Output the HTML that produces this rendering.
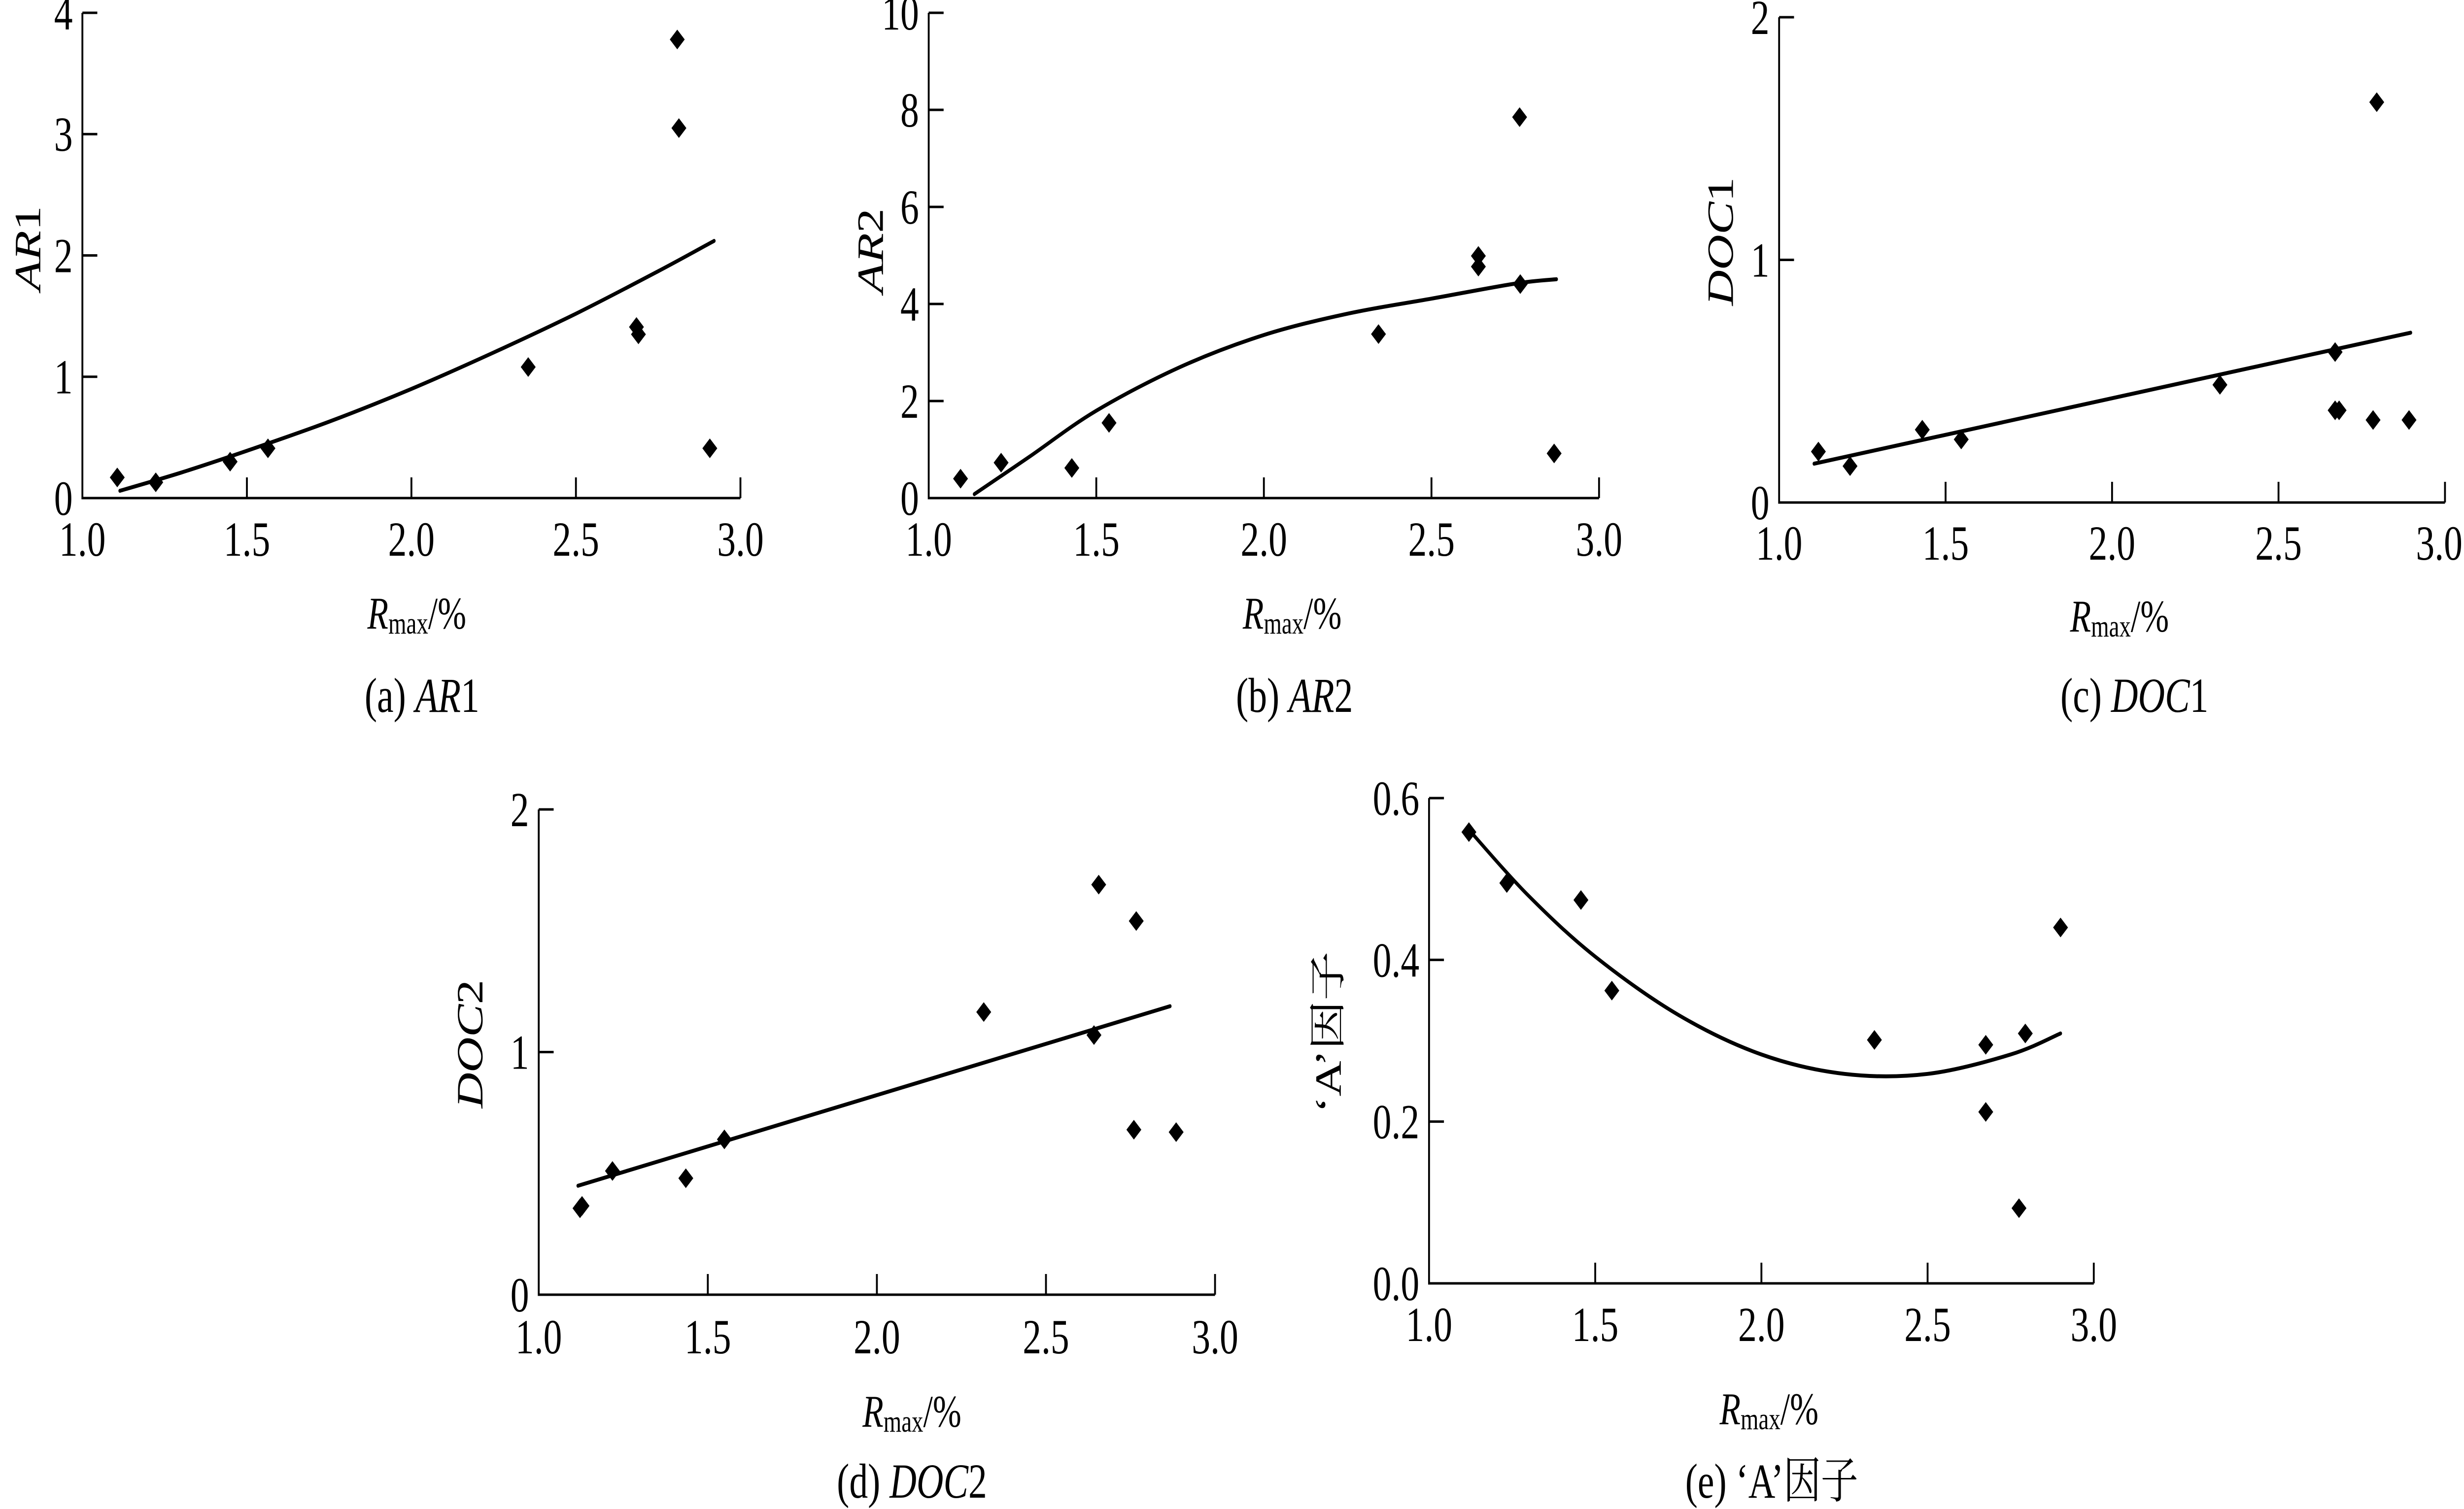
<!DOCTYPE html>
<html><head><meta charset="utf-8"><style>
html,body{margin:0;padding:0;background:#fff;overflow:hidden;width:100%;height:100%;}
svg{display:block;width:100vw;height:100vh;}
text{font-family:"Liberation Serif","Noto Serif CJK SC","Noto Sans CJK SC",serif;fill:#000;}
</style></head><body>
<svg id="fig" xmlns="http://www.w3.org/2000/svg" viewBox="0 0 6609 3063" preserveAspectRatio="none" overflow="hidden"></svg>
<script>
// ---- data ----
const xTickLabels = ["1.0","1.5","2.0","2.5","3.0"];
const xTickValues = [1.0,1.5,2.0,2.5,3.0];

const aX = [1.106,1.223,1.449,1.564,2.355,2.684,2.690,2.808,2.813,2.907];
const aY = [0.17,0.13,0.30,0.41,1.08,1.41,1.35,3.78,3.05,0.41];
const aCurveX = [1.114,1.3,1.5,1.75,2.0,2.25,2.5,2.75,2.92];
const aCurveY = [0.06,0.21,0.39,0.63,0.90,1.20,1.52,1.87,2.12];
const aYTicks = [0,1,2,3,4];
const aYTickLabels = ["0","1","2","3","4"];

const bX = [1.095,1.216,1.427,1.538,2.342,2.640,2.640,2.763,2.765,2.866];
const bY = [0.40,0.73,0.62,1.55,3.38,4.99,4.77,7.85,4.41,0.92];
const bCurveX = [1.136,1.3,1.5,1.75,2.0,2.25,2.5,2.75,2.873];
const bCurveY = [0.08,0.85,1.8,2.7,3.36,3.8,4.11,4.42,4.51];
const bYTicks = [0,2,4,6,8,10];
const bYTickLabels = ["0","2","4","6","8","10"];

const cX = [1.118,1.213,1.430,1.547,2.324,2.670,2.670,2.682,2.784,2.795,2.892];
const cY = [0.21,0.15,0.30,0.26,0.485,0.62,0.38,0.38,0.34,1.65,0.34];
const cCurveX = [1.105,2.897];
const cCurveY = [0.16,0.70];
const cYTicks = [0,1,2];
const cYTickLabels = ["0","1","2"];

const dX = [1.128,1.122,1.218,1.435,1.549,2.316,2.642,2.656,2.767,2.760,2.885];
const dY = [0.366,0.356,0.51,0.48,0.64,1.165,1.07,1.69,1.54,0.68,0.67];
const dCurveX = [1.116,2.867];
const dCurveY = [0.449,1.189];
const dYTicks = [0,1,2];
const dYTickLabels = ["0","1","2"];

const eX = [1.120,1.234,1.457,1.550,2.340,2.675,2.675,2.794,2.775,2.900];
const eY = [0.558,0.495,0.474,0.362,0.301,0.295,0.212,0.309,0.093,0.440];
const eCurveX = [1.126,1.3,1.5,1.75,2.0,2.25,2.5,2.75,2.9];
const eCurveY = [0.558,0.479,0.404,0.332,0.283,0.259,0.259,0.283,0.309];
const eYTicks = [0,0.2,0.4,0.6];
const eYTickLabels = ["0.0","0.2","0.4","0.6"];

// ---- layout ----
const NS = "http://www.w3.org/2000/svg";
const svg = document.getElementById('fig');
function mk(tag, attrs, parent){
  const e = document.createElementNS(NS, tag);
  for (const k in attrs) e.setAttribute(k, attrs[k]);
  (parent||svg).appendChild(e);
  return e;
}

const panels = [
  {id:'a', x0:221, x1:1986, y0:1011, y1:26, ymax:4, xs:aX, ys:aY, cx:aCurveX, cy:aCurveY, yt:aYTicks, ytl:aYTickLabels,
   tickBase:1128, rx:1118, rBase:1276, capX:1132, capBase:1445, ytX:74, ytY:504, ytitle:[["AR",true],["1",false]], cap:[["(a) ",false],["AR",true],["1",false]]},
  {id:'b', x0:2491, x1:4289, y0:1011, y1:26, ymax:10, xs:bX, ys:bY, cx:bCurveX, cy:bCurveY, yt:bYTicks, ytl:bYTickLabels,
   tickBase:1128, rx:3466, rBase:1276, capX:3472, capBase:1445, ytX:2334, ytY:509, ytitle:[["AR",true],["2",false]], cap:[["(b) ",false],["AR",true],["2",false]]},
  {id:'c', x0:4772, x1:6558, y0:1020, y1:35, ymax:2, xs:cX, ys:cY, cx:cCurveX, cy:cCurveY, yt:cYTicks, ytl:cYTickLabels,
   tickBase:1136, rx:5685, rBase:1282, capX:5725, capBase:1445, ytX:4614, ytY:490, ytitle:[["DOC",true],["1",false]], cap:[["(c) ",false],["DOC",true],["1",false]]},
  {id:'d', x0:1445, x1:3259, y0:2628, y1:1643, ymax:2, xs:dX, ys:dY, cx:dCurveX, cy:dCurveY, yt:dYTicks, ytl:dYTickLabels,
   tickBase:2747, rx:2446, rBase:2896, capX:2446, capBase:3040, ytX:1260, ytY:2119, ytitle:[["DOC",true],["2",false]], cap:[["(d)  ",false],["DOC",true],["2",false]]},
  {id:'e', x0:3833, x1:5616, y0:2605, y1:1620, ymax:0.6, xs:eX, ys:eY, cx:eCurveX, cy:eCurveY, yt:eYTicks, ytl:eYTickLabels,
   tickBase:2722, rx:4745, rBase:2891, capX:4752, capBase:3040, ytX:3562, ytY:2095, ytitle:[["‘A’因子",false]], cap:[["(e) ‘A’因子",false]]}
];

function richText(parent, parts, attrs){
  const t = mk('text', attrs, parent);
  parts.forEach(p => {
    const s = mk('tspan', p[1] ? {'font-style':'italic'} : {}, t);
    s.textContent = p[0];
  });
  return t;
}

function smoothPath(pts){
  if (pts.length < 3) return 'M' + pts.map(p => p[0].toFixed(1) + ',' + p[1].toFixed(1)).join(' L');
  let d = 'M' + pts[0][0].toFixed(1) + ',' + pts[0][1].toFixed(1);
  for (let i = 0; i < pts.length - 1; i++) {
    const p0 = pts[Math.max(0, i - 1)], p1 = pts[i], p2 = pts[i + 1], p3 = pts[Math.min(pts.length - 1, i + 2)];
    const c1 = [p1[0] + (p2[0] - p0[0]) / 6, p1[1] + (p2[1] - p0[1]) / 6];
    const c2 = [p2[0] - (p3[0] - p1[0]) / 6, p2[1] - (p3[1] - p1[1]) / 6];
    d += ` C${c1[0].toFixed(1)},${c1[1].toFixed(1)} ${c2[0].toFixed(1)},${c2[1].toFixed(1)} ${p2[0].toFixed(1)},${p2[1].toFixed(1)}`;
  }
  return d;
}

panels.forEach(p => {
  const g = mk('g', {});
  
  
  const sx = v => p.x0 + (v - 1.0) / 2.0 * (p.x1 - p.x0);
  const sy = v => p.y0 - v / p.ymax * (p.y0 - p.y1);

  const ax = mk('path', {d:`M${p.x0},${p.y1} L${p.x0},${p.y0} L${p.x1},${p.y0}`, fill:'none', stroke:'#000', 'stroke-width':5}, g);
  
  

  xTickValues.forEach((v, i) => {
    const x = sx(v);
    if (i > 0) {
      const tk = mk('line', {x1:x, y1:p.y0, x2:x, y2:p.y0 - 42, stroke:'#000', 'stroke-width':5}, g);
      
      
    }
    const clamp = x + 66 > 6605;
    const lb = mk('text', {x:clamp ? 6605 : x, y:p.tickBase, 'text-anchor':clamp ? 'end' : 'middle', 'font-size':100}, g);
    
    
    lb.textContent = xTickLabels[i];
  });
  p.yt.forEach((v, i) => {
    const y = sy(v);
    if (i > 0) {
      const tk = mk('line', {x1:p.x0, y1:y, x2:p.x0 + 40, y2:y, stroke:'#000', 'stroke-width':5}, g);
      
      
    }
    const lb = mk('text', {x:p.x0 - 26, y:y + 34, 'text-anchor':'end', 'font-size':100}, g);
    
    
    lb.textContent = p.ytl[i];
  });

  const pts = p.cx.map((v, i) => [sx(v), sy(p.cy[i])]);
  const cv = mk('path', {d:smoothPath(pts), fill:'none', stroke:'#000', 'stroke-width':8, 'stroke-linejoin':'round', 'stroke-linecap':'round'}, g);
  
  

  p.xs.forEach((v, i) => {
    const x = sx(v), y = sy(p.ys[i]);
    const pt = mk('path', {d:`M${x},${y-20} L${x+20},${y} L${x},${y+20} L${x-20},${y} Z`, fill:'#000'}, g);
    
    
  });

  const yt = richText(g, p.ytitle, {x:0, y:0, 'text-anchor':'middle', 'font-size':100, transform:`translate(${p.ytX + 34},${p.ytY}) rotate(-90)`});
  
  

  const xt = mk('text', {x:p.rx, y:p.rBase, 'text-anchor':'middle', 'font-size':92}, g);
  
  
  const r = mk('tspan', {'font-style':'italic'}, xt); r.textContent = 'R';
  const m = mk('tspan', {'font-size':62, dy:10}, xt); m.textContent = 'max';
  const pc = mk('tspan', {dy:-10}, xt); pc.textContent = '/%';

  const cp = richText(g, p.cap, {x:p.capX, y:p.capBase, 'text-anchor':'middle', 'font-size':100});
  
  
});
</script>
</body></html>
